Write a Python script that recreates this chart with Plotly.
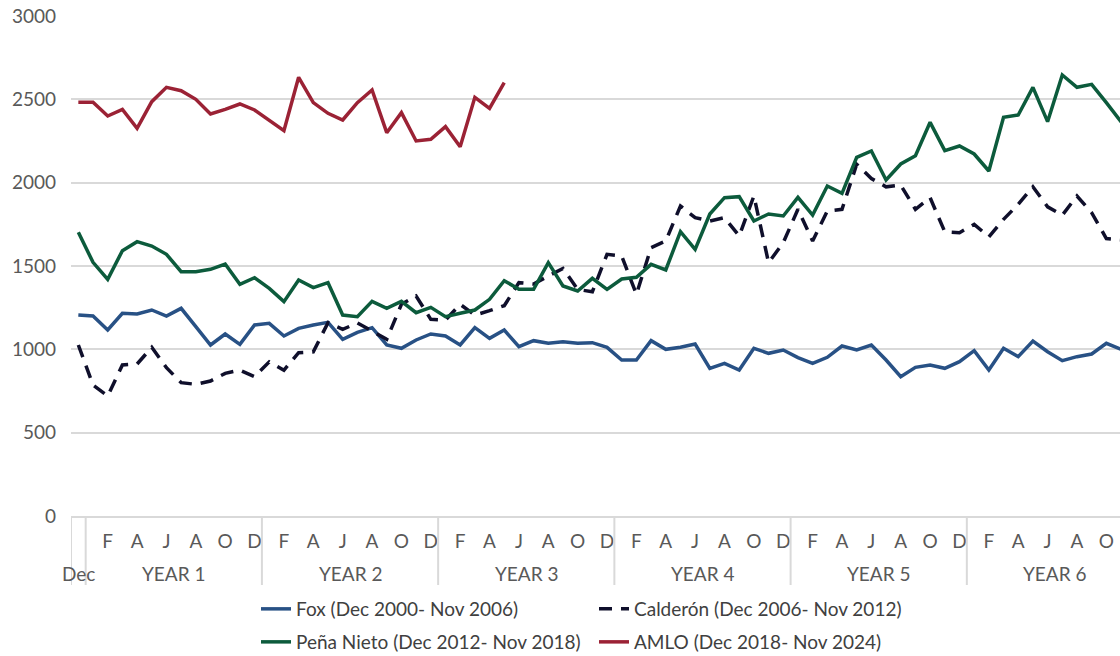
import plotly.graph_objects as go

# Monthly values, index 0 = December of the first term month, then Jan..Dec for six years
fox = [1206, 1200, 1116, 1216, 1212, 1236, 1200, 1246, 1136, 1026, 1092, 1030, 1146, 1156, 1080, 1126, 1146, 1162,
       1060, 1102, 1130, 1026, 1006, 1056, 1092, 1080, 1026, 1130, 1066, 1116, 1016, 1052, 1036, 1046, 1036, 1040,
       1012, 936, 936, 1052, 1000, 1012, 1032, 886, 916, 876, 1006, 976, 996, 950, 916, 952, 1020, 996,
       1026, 936, 836, 892, 906, 886, 926, 992, 876, 1006, 956, 1050, 986, 932, 956, 972, 1036, 1000, 990]

calderon = [1026, 786, 720, 906, 912, 1012, 890, 800, 790, 810, 856, 875, 836, 925, 875, 980, 985, 1160,
            1120, 1158, 1110, 1060, 1270, 1320, 1180, 1176, 1270, 1205, 1232, 1262, 1400, 1392, 1440, 1485, 1360, 1345,
            1570, 1560, 1330, 1610, 1650, 1860, 1790, 1770, 1790, 1680, 1920, 1520, 1640, 1840, 1650, 1830, 1840, 2110,
            2025, 1975, 1985, 1840, 1910, 1705, 1700, 1750, 1675, 1780, 1870, 1975, 1855, 1805, 1920, 1820, 1665, 1656, 1650]

pena_nieto = [1702, 1522, 1420, 1592, 1646, 1620, 1570, 1466, 1466, 1480, 1512, 1390, 1430, 1366, 1286, 1416, 1370, 1400,
              1206, 1196, 1288, 1246, 1288, 1220, 1252, 1196, 1216, 1236, 1300, 1412, 1360, 1360, 1520, 1380, 1350, 1426,
              1360, 1422, 1432, 1510, 1476, 1706, 1600, 1812, 1910, 1916, 1770, 1812, 1800, 1912, 1806, 1980, 1936, 2152,
              2190, 2016, 2112, 2162, 2362, 2192, 2220, 2172, 2070, 2392, 2406, 2572, 2366, 2646, 2572, 2590, 2480, 2366, 2250]

amlo = [2482, 2482, 2400, 2440, 2326, 2486, 2572, 2552, 2500, 2412, 2440, 2472, 2436, 2376, 2312, 2632, 2480, 2416,
        2376, 2480, 2556, 2300, 2420, 2250, 2260, 2336, 2216, 2512, 2446, 2600]

series_names = ["Fox (Dec 2000- Nov 2006)", "Calderón (Dec 2006- Nov 2012)",
                "Peña Nieto (Dec 2012- Nov 2018)", "AMLO (Dec 2018- Nov 2024)"]

month_letters = ["F", "A", "J", "A", "O", "D"] * 6
month_positions = list(range(2, 73, 2))
year_labels = ["YEAR 1", "YEAR 2", "YEAR 3", "YEAR 4", "YEAR 5", "YEAR 6"]
y_ticks = [0, 500, 1000, 1500, 2000, 2500, 3000]

FONT = "Lato"
FS = 19
GRID = "#d9d9d9"
LABEL = "#595959"

fig = go.Figure()

fig.add_trace(go.Scatter(x=list(range(len(fox))), y=fox, mode="lines", name=series_names[0],
                         line=dict(color="#285185", width=3.5), legend="legend"))
fig.add_trace(go.Scatter(x=list(range(len(calderon))), y=calderon, mode="lines", name=series_names[1],
                         line=dict(color="#0f0f2b", width=3.5, dash="13px,9px"), legend="legend"))
fig.add_trace(go.Scatter(x=list(range(len(pena_nieto))), y=pena_nieto, mode="lines", name=series_names[2],
                         line=dict(color="#0c5b3c", width=3.5), legend="legend2"))
fig.add_trace(go.Scatter(x=list(range(len(amlo))), y=amlo, mode="lines", name=series_names[3],
                         line=dict(color="#9b2235", width=3.5), legend="legend2"))

# Year group labels and the lone "Dec" on the outer category row
annotations = [dict(x=0, y=-0.114, xref="x", yref="paper", text="Dec", showarrow=False,
                    yanchor="middle", font=dict(family=FONT, size=FS, color=LABEL))]
for k, label in enumerate(year_labels):
    annotations.append(dict(x=6.5 + 12 * k, y=-0.114, xref="x", yref="paper", text=label,
                            showarrow=False, yanchor="middle",
                            font=dict(family=FONT, size=FS, color=LABEL)))

# Category group dividers below the axis
shapes = []
for xb in [-0.5, 0.5, 12.5, 24.5, 36.5, 48.5, 60.5]:
    shapes.append(dict(type="line", xref="x", yref="paper", x0=xb, x1=xb, y0=0, y1=-0.138,
                       line=dict(color=GRID, width=2)))

legend_common = dict(orientation="h", xref="container", yref="container", xanchor="left",
                     yanchor="middle", entrywidth=293, entrywidthmode="pixels",
                     font=dict(family=FONT, size=FS, color="#404040"),
                     bgcolor="rgba(0,0,0,0)", itemwidth=30, traceorder="normal")

fig.update_layout(
    width=1120, height=656,
    margin=dict(l=71, r=0, t=16, b=140, autoexpand=False),
    paper_bgcolor="white", plot_bgcolor="white",
    font=dict(family=FONT, size=FS, color=LABEL),
    xaxis=dict(range=[-0.5, 70.93], tickmode="array", tickvals=month_positions, ticktext=month_letters,
               showgrid=False, zeroline=False, showline=True, linecolor=GRID, linewidth=2,
               ticks="", ticklabelstandoff=7, tickfont=dict(family=FONT, size=FS, color=LABEL)),
    yaxis=dict(range=[0, 3000], tickmode="array", tickvals=y_ticks, showgrid=True, gridcolor=GRID,
               gridwidth=2, zeroline=False, ticks="", ticklabelstandoff=14,
               tickfont=dict(family=FONT, size=FS, color=LABEL)),
    legend=dict(x=256 / 1120, y=1 - 609 / 656, **legend_common),
    legend2=dict(x=256 / 1120, y=1 - 642 / 656, **legend_common),
    annotations=annotations,
    shapes=shapes,
    showlegend=True,
)

fig.write_html("out.html")
